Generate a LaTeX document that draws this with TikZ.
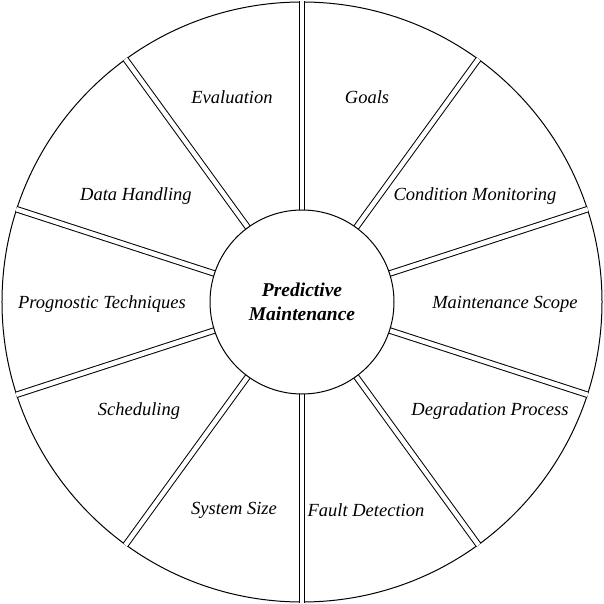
\documentclass[tikz,border=0pt]{standalone}
\usepackage{fontspec}
\setmainfont{Liberation Serif}
\begin{document}
\begin{tikzpicture}[x=1pt,y=1pt,
  lab/.style={font=\itshape\fontsize{18.5}{21}\selectfont},
  divider/.style={draw=black,line width=1pt,double=white,double distance=4.5pt}]
\useasboundingbox (-302,-302) rectangle (302,302);
\node[circle,draw,line width=1pt,minimum size=600pt,inner sep=0pt] (outer) at (0,0) {};
\foreach \a in {90,54,18,-18,-54,-90,-126,-162,162,126}{
  \coordinate (i\a) at (\a:92);
  \coordinate (o\a) at (\a:300.5);
  \draw[divider] (i\a) -- (o\a);
}
\node[circle,draw,line width=1pt,fill=white,minimum size=184pt,inner sep=0pt,align=center,
  font=\bfseries\itshape\fontsize{19.5}{24}\selectfont] (c) at (0,0) {Predictive\\Maintenance};
\node[lab] (ev) at (-70,205) {Evaluation};
\node[lab] (go) at (65,205) {Goals};
\node[lab] (dh) at (-166,106) {Data Handling};
\node[lab] (cm) at (173,106) {Condition Monitoring};
\node[lab] (pt) at (-200,-2) {Prognostic Techniques};
\node[lab] (ms) at (203,-2) {Maintenance Scope};
\node[lab] (sc) at (-163,-109) {Scheduling};
\node[lab] (dp) at (188,-109) {Degradation Process};
\node[lab] (ss) at (-68,-208) {System Size};
\node[lab] (fd) at (64,-208) {Fault Detection};
\end{tikzpicture}
\end{document}
